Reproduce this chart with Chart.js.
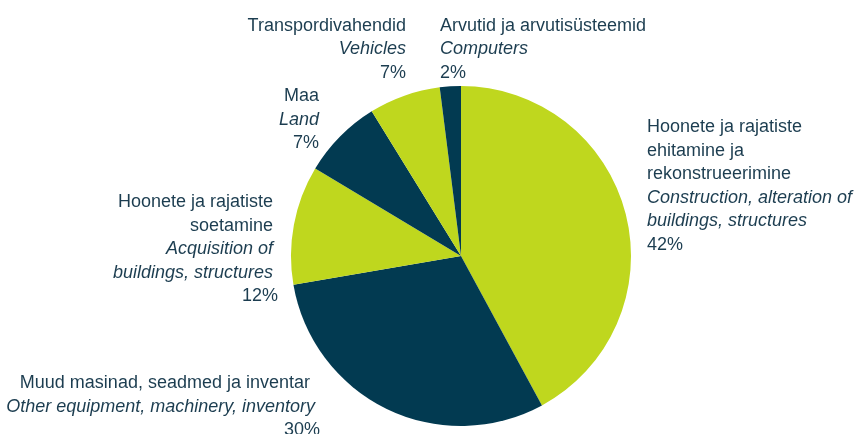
<!DOCTYPE html>
<html>
<head>
<meta charset="utf-8">
<script src="https://cdn.jsdelivr.net/npm/chart.js@4/dist/chart.umd.min.js"></script>
<style>
  html, body { margin: 0; padding: 0; background: #ffffff; }
  #wrap { position: relative; width: 854px; height: 434px; }
</style>
</head>
<body>
<div id="wrap"><canvas id="c" width="854" height="434"></canvas></div>
<script>
// ---- data ----
const categoriesEt = [
  'Hoonete ja rajatiste ehitamine ja rekonstrueerimine',
  'Muud masinad, seadmed ja inventar',
  'Hoonete ja rajatiste soetamine',
  'Maa',
  'Transpordivahendid',
  'Arvutid ja arvutisüsteemid'
];
const categoriesEn = [
  'Construction, alteration of buildings, structures',
  'Other equipment, machinery, inventory',
  'Acquisition of buildings, structures',
  'Land',
  'Vehicles',
  'Computers'
];
const values = [42.1, 30.2, 11.3, 7.6, 6.8, 2.0];
const pctLabels = ['42%', '30%', '12%', '7%', '7%', '2%'];

// ---- styles / layout ----
const LIME = '#BFD71E';
const DARK = '#023A51';
const TEXT = '#1C3D50';
const sliceColors = [LIME, DARK, LIME, DARK, LIME, DARK];
const FONT = '"Liberation Sans", Arial, sans-serif';
const FONT_SIZE = 18;
const LINE_H = 23.5;

// label placement: anchor x, first baseline y, alignment, and how each text wraps
const labelLayout = [
  { x: 647, y: 132, align: 'left',
    et: ['Hoonete ja rajatiste', 'ehitamine ja', 'rekonstrueerimine'],
    en: ['Construction, alteration of', 'buildings, structures'] },
  { x: 320, y: 388, align: 'right',
    et: ['Muud masinad, seadmed ja inventar  '],
    en: ['Other equipment, machinery, inventory '] },
  { x: 278, y: 207, align: 'right',
    et: ['Hoonete ja rajatiste ', 'soetamine '],
    en: ['Acquisition of ', 'buildings, structures '] },
  { x: 319, y: 101, align: 'right', et: ['Maa'], en: ['Land'] },
  { x: 406, y: 30.5, align: 'right', et: ['Transpordivahendid'], en: ['Vehicles'] },
  { x: 440, y: 30.5, align: 'left', et: ['Arvutid ja arvutisüsteemid'], en: ['Computers'] }
];

const labelPlugin = {
  id: 'sliceLabels',
  afterDraw(chart) {
    const ctx = chart.ctx;
    ctx.save();
    ctx.fillStyle = TEXT;
    ctx.textBaseline = 'alphabetic';
    labelLayout.forEach((lay, i) => {
      const lines = [];
      lay.et.forEach(t => lines.push({ t, italic: false }));
      lay.en.forEach(t => lines.push({ t, italic: true }));
      lines.push({ t: pctLabels[i], italic: false });
      ctx.textAlign = lay.align;
      lines.forEach((ln, k) => {
        ctx.font = (ln.italic ? 'italic ' : '') + FONT_SIZE + 'px ' + FONT;
        ctx.fillText(ln.t, lay.x, lay.y + k * LINE_H);
      });
    });
    ctx.restore();
  }
};

new Chart(document.getElementById('c'), {
  type: 'pie',
  data: {
    labels: categoriesEt.map((et, i) => et + ' / ' + categoriesEn[i]),
    datasets: [{
      data: values,
      backgroundColor: sliceColors,
      borderWidth: 0,
      hoverOffset: 0,
      offset: 0
    }]
  },
  options: {
    responsive: false,
    animation: false,
    devicePixelRatio: 1,
    layout: { padding: { left: 291, right: 223, top: 86, bottom: 8 } },
    plugins: {
      legend: { display: false },
      tooltip: { enabled: false }
    }
  },
  plugins: [labelPlugin]
});
</script>
</body>
</html>
